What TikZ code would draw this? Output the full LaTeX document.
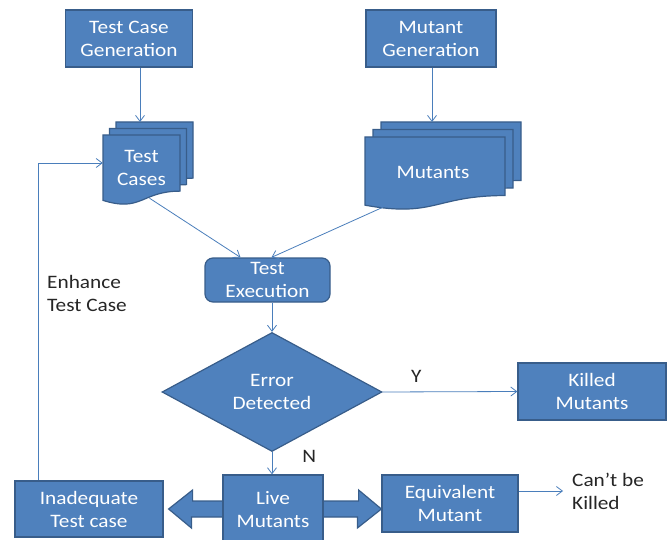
\documentclass[tikz,border=0pt]{standalone}
\usepackage{fontspec}
\setmainfont{Carlito}[FakeStretch=1.12]
\usetikzlibrary{arrows.meta, shapes.geometric}
\definecolor{boxblue}{HTML}{4F81BD}
\definecolor{boxedge}{HTML}{385D8A}
\definecolor{linkblue}{HTML}{4A7EBB}
\definecolor{labelgray}{HTML}{262626}

% one sheet of a document stack: left, top, width, height
\newcommand{\docsheet}[4]{%
  \filldraw[sheet] (#1,#2) -- ({#1+#3},#2) -- ({#1+#3},{#2+0.802*#4})
    .. controls ({#1+0.5*#3},{#2+0.802*#4}) and ({#1+0.5*#3},{#2+1.108*#4}) .. (#1,{#2+0.934*#4}) -- cycle;}

\begin{document}
\begin{tikzpicture}[
    x=1pt, y=-1pt,
    process/.style={draw=boxedge, fill=boxblue, line width=1.2pt, text=white, align=center,
      font=\fontsize{19}{23}\selectfont, inner sep=0pt},
    sheet/.style={draw=boxedge, fill=boxblue, line width=1.2pt},
    doctext/.style={text=white, align=center, font=\fontsize{19}{23}\selectfont, inner sep=0pt},
    decision/.style={process, diamond, aspect=1.85},
    link/.style={-{Straight Barb[length=6pt, width=9pt]}, draw=linkblue, line width=0.8pt},
    blockarrow/.style={draw=boxedge, fill=boxblue, line width=1.2pt},
    note/.style={text=labelgray, align=left, font=\fontsize{19}{23}\selectfont, inner sep=0pt}
  ]
  \useasboundingbox (0,0) rectangle (672,540);

  % generators
  \node[process, minimum width=127pt, minimum height=57pt] (tcgen) at (129,38.5) {Test Case\\Generation};
  \node[process, minimum width=130pt, minimum height=57pt] (mgen) at (431,38.5) {Mutant\\Generation};

  % document stacks
  \docsheet{116}{122}{77}{70}
  \docsheet{109.5}{128.5}{77}{70}
  \docsheet{103}{135}{77}{70}
  \node[doctext, minimum width=77pt, minimum height=60pt] (tcases) at (141.5,168) {Test\\Cases};
  \coordinate (tcback) at (140,122);

  \docsheet{381}{122}{140}{73}
  \docsheet{373}{129.5}{140}{73}
  \docsheet{365}{137}{140}{73}
  \node[doctext, minimum width=140pt, minimum height=70pt] (mutants) at (433,172) {Mutants};
  \coordinate (mback) at (432,122);

  % execution and decision
  \node[process, rounded corners=8pt, minimum width=125pt, minimum height=44pt] (texec) at (267.5,280) {Test\\Execution};
  \node[decision, minimum width=220pt, minimum height=119pt] (detect) at (272,392) {Error\\Detected};
  \node[process, minimum width=148pt, minimum height=57pt] (killed) at (592,391.5) {Killed\\Mutants};

  % outcomes
  \node[process, minimum width=148pt, minimum height=56pt] (inad) at (89,509) {Inadequate\\Test case};
  \node[process, minimum width=136pt, minimum height=57pt] (equiv) at (450,503.5) {Equivalent\\Mutant};
  \coordinate (ltip) at ([xshift=5pt]inad.east);
  \coordinate (rtip) at (ltip -| equiv.west);
  \filldraw[blockarrow] (ltip) -- ++(24,-19) -- ++(0,11) -- ++(166,0) -- ++(0,-11) -- (rtip)
    -- ++(-24,19) -- ++(0,-11) -- ++(-166,0) -- ++(0,11) -- cycle;
  \node[process, minimum width=100pt, minimum height=70pt] (live) at (273,510) {Live\\Mutants};

  \node[note, anchor=west] (cant) at (572,491) {Can’t be\\Killed};
  \node[note, anchor=west] (enhance) at (47,293) {Enhance\\Test Case};

  % connectors
  \draw[link] (tcgen.south -| tcback) -- (tcback);
  \draw[link] (mgen.south -| mback) -- (mback);
  \draw[link] ([xshift=8pt]tcases.south) -- ([xshift=-27pt]texec.north);
  \draw[link] ([xshift=-50pt]mutants.south) -- ([xshift=4pt]texec.north);
  \draw[link] (texec.south -| detect.north) -- (detect.north);
  \draw[link] (detect.east) -- node[note, pos=0.25, above=9pt] (yes) {Y} (killed.west);
  \draw[link] (detect.south) -- node[note, pos=0.2, right=30pt] (no) {N} (detect.south |- live.north);
  \draw[link] (equiv.east |- cant.west) -- ([xshift=-9pt]cant.west);
  \draw[link] ([xshift=-51pt]inad.north) |- ([yshift=5pt]tcases.west);
\end{tikzpicture}
\end{document}
